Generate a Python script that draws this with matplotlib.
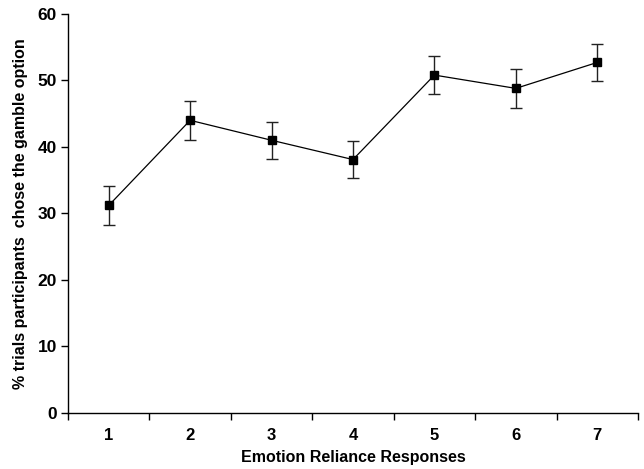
import matplotlib
matplotlib.use("Agg")
import matplotlib.pyplot as plt
from matplotlib.ticker import FixedLocator

plt.rcParams['font.family'] = ['Liberation Sans', 'DejaVu Sans']
plt.rcParams['font.weight'] = 'bold'

# data
responses = [1, 2, 3, 4, 5, 6, 7]
gamble_pct = [31.2, 44.0, 41.0, 38.1, 50.8, 48.8, 52.7]
gamble_err = [2.9, 2.9, 2.8, 2.8, 2.9, 2.9, 2.8]
y_ticks = [0, 10, 20, 30, 40, 50, 60]

fig = plt.figure(figsize=(6.44, 4.69), dpi=100)
ax = fig.add_axes([0.1056, 0.1194, 0.885, 0.851])

ax.errorbar(responses, gamble_pct, yerr=gamble_err, color='black',
            ecolor='#222222', elinewidth=1.0, capsize=4, capthick=1.0,
            linewidth=0.9, marker='s', markersize=6)

ax.set_xlim(0.5, 7.5)
ax.set_ylim(0, 60)
ax.set_xticks(responses)
ax.set_xticklabels([str(r) for r in responses])
ax.xaxis.set_minor_locator(FixedLocator([r + 0.5 for r in [0] + responses]))
ax.set_yticks(y_ticks)

ax.tick_params(axis='x', which='major', length=0, pad=11, labelsize=12)
ax.tick_params(axis='x', which='minor', length=5, width=1, direction='out')
ax.tick_params(axis='y', length=5, width=1, direction='out', labelsize=12.5, pad=3)

for side in ['top', 'right']:
    ax.spines[side].set_visible(False)
for side in ['left', 'bottom']:
    ax.spines[side].set_linewidth(1)

ax.set_xlabel('Emotion Reliance Responses', fontsize=11.5, fontweight='bold', labelpad=5)
ax.set_ylabel('% trials participants  chose the gamble option', fontsize=11.5,
              fontweight='bold', labelpad=7)

fig.savefig('out.png', dpi=100)
